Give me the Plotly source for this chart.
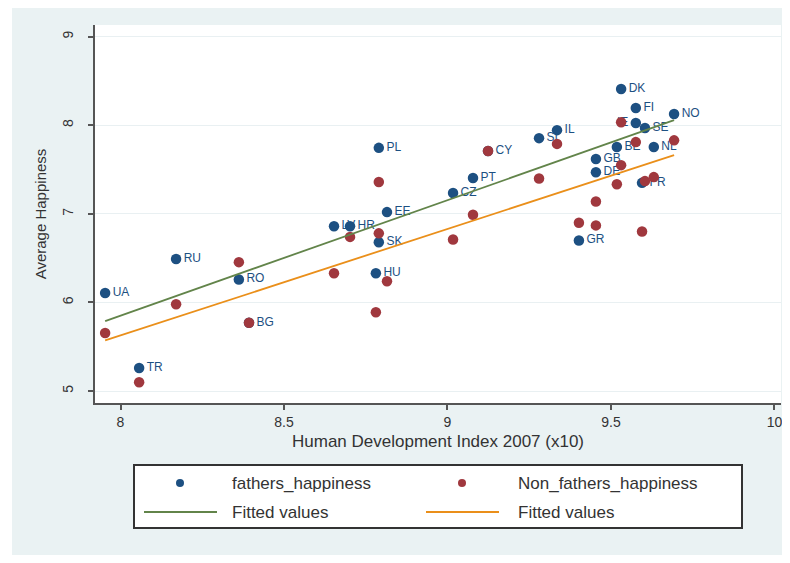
import numpy as np
import plotly.graph_objects as go

# ---- data ----
fathers_labels = ["UA", "TR", "RU", "RO", "BG", "LV", "HR", "EE", "PL", "SK", "HU",
                  "CZ", "PT", "CY", "SI", "IL", "DK", "FI", "NO", "IE", "SE", "BE",
                  "NL", "GB", "DE", "FR", "GR"]
fathers_hdi = [7.953, 8.057, 8.170, 8.362, 8.393, 8.653, 8.702, 8.815, 8.790, 8.790, 8.781,
               9.017, 9.078, 9.124, 9.280, 9.335, 9.531, 9.576, 9.693, 9.576, 9.604, 9.518,
               9.631, 9.454, 9.454, 9.595, 9.402]
fathers_happiness = [6.107, 5.26, 6.49, 6.26, 5.77, 6.86, 6.86, 7.02, 7.745, 6.68, 6.33,
                     7.235, 7.405, 7.71, 7.855, 7.945, 8.41, 8.195, 8.127, 8.025, 7.97, 7.755,
                     7.755, 7.62, 7.47, 7.35, 6.70]

non_fathers_hdi = [7.953, 8.057, 8.170, 8.362, 8.393, 8.653, 8.702, 8.790, 8.790, 8.815, 8.781,
                   9.017, 9.078, 9.124, 9.280, 9.335, 9.531, 9.576, 9.693, 9.531, 9.518,
                   9.631, 9.604, 9.454, 9.454, 9.402, 9.595]
non_fathers_happiness = [5.655, 5.10, 5.98, 6.455, 5.77, 6.33, 6.74, 7.36, 6.78, 6.24, 5.89,
                         6.71, 6.99, 7.71, 7.40, 7.79, 8.035, 7.81, 7.83, 7.55, 7.335,
                         7.415, 7.37, 7.14, 6.87, 6.90, 6.80]

x_ticks = [8, 8.5, 9, 9.5, 10]
y_ticks = [5, 6, 7, 8, 9]
legend_names = ["fathers_happiness", "Non_fathers_happiness", "Fitted values", "Fitted values"]

BLUE = "#1d5082"
RED = "#a0383e"
GREEN = "#62844a"
ORANGE = "#ea8f1a"
FONT = "Liberation Sans, Arial, sans-serif"


def fit_line(xs, ys):
    xs = np.asarray(xs)
    ys = np.asarray(ys)
    b, a = np.polyfit(xs, ys, 1)
    xx = np.array([xs.min(), xs.max()])
    return xx, a + b * xx


fx, fy = fit_line(fathers_hdi, fathers_happiness)
nx, ny = fit_line(non_fathers_hdi, non_fathers_happiness)

label_pos = ["middle left" if lbl == "IE" else "middle right" for lbl in fathers_labels]

fig = go.Figure()
fig.add_trace(go.Scatter(
    x=fathers_hdi, y=fathers_happiness, mode="markers+text", text=fathers_labels,
    textposition=label_pos, textfont=dict(color=BLUE, size=12, family=FONT),
    marker=dict(color=BLUE, size=10.5), name=legend_names[0], cliponaxis=False))
fig.add_trace(go.Scatter(
    x=non_fathers_hdi, y=non_fathers_happiness, mode="markers",
    marker=dict(color=RED, size=10.5), name=legend_names[1]))
fig.add_trace(go.Scatter(x=fx, y=fy, mode="lines", line=dict(color=GREEN, width=1.8),
                         name=legend_names[2]))
fig.add_trace(go.Scatter(x=nx, y=ny, mode="lines", line=dict(color=ORANGE, width=1.8),
                         name=legend_names[3]))

# page has an 8px body margin: figure is 782x555, positioned at (8, 8)
OFF = 8
W, H = 782, 555
L, R, T, B = 95 - OFF, W - (781 - OFF), 25 - OFF, H - (403 - OFF)
pw = W - L - R
ph = H - T - B


def px_x(p):  # page pixel -> paper x
    return (p - OFF - L) / pw


def px_y(p):  # page pixel -> paper y
    return (H - B - (p - OFF)) / ph


shapes = [
    dict(type="rect", xref="paper", yref="paper", layer="below",
         x0=px_x(12), x1=px_x(785), y0=px_y(555), y1=px_y(6),
         fillcolor="#eaf2f3", line=dict(width=0)),
    dict(type="rect", xref="paper", yref="paper", layer="below",
         x0=0, x1=1, y0=0, y1=1, fillcolor="white", line=dict(width=0)),
    # legend box
    dict(type="rect", xref="paper", yref="paper", x0=px_x(134), x1=px_x(742),
         y0=px_y(528), y1=px_y(465), fillcolor="white", line=dict(color="#333333", width=2)),
]
annotations = []

row_y = [483, 512]
col_key = [180, 462]
col_text = [230, 516]
keys = [("marker", BLUE), ("marker", RED), ("line", GREEN), ("line", ORANGE)]
for i, (name, (kind, col)) in enumerate(zip(legend_names, keys)):
    r, c = divmod(i, 2)
    cy = row_y[r]
    cx = col_key[c]
    if kind == "marker":
        shapes.append(dict(type="circle", xref="paper", yref="paper",
                           x0=px_x(cx - 4), x1=px_x(cx + 4), y0=px_y(cy + 4), y1=px_y(cy - 4),
                           fillcolor=col, line=dict(width=0)))
    else:
        shapes.append(dict(type="line", xref="paper", yref="paper",
                           x0=px_x(cx - 36), x1=px_x(cx + 37), y0=px_y(cy), y1=px_y(cy),
                           line=dict(color=col, width=2)))
    annotations.append(dict(text=name, xref="paper", yref="paper", x=px_x(col_text[c]),
                            y=px_y(cy), xanchor="left", yanchor="middle", showarrow=False,
                            font=dict(size=17, color="#333333", family=FONT)))

fig.update_layout(
    width=W, height=H, template="none",
    margin=dict(l=L, r=R, t=T, b=B, autoexpand=False),
    paper_bgcolor="white", plot_bgcolor="white",
    font=dict(family=FONT, color="#333333", size=13),
    shapes=shapes, annotations=annotations, showlegend=False,
    xaxis=dict(range=[7.922, 10.020], tickvals=x_ticks, ticktext=[str(t) for t in x_ticks],
               showgrid=False, zeroline=False, showline=True, linecolor="#555555",
               linewidth=2, ticks="outside", ticklen=5, tickwidth=2, tickcolor="#555555",
               tickfont=dict(size=14, color="#333333"),
               title=dict(text="Human Development Index 2007 (x10)",
                          font=dict(size=17, color="#333333"), standoff=6)),
    yaxis=dict(range=[4.865, 9.132], tickvals=y_ticks, ticktext=[str(t) for t in y_ticks],
               showgrid=True, gridcolor="#e9f0f2", gridwidth=1, zeroline=False,
               showline=True, linecolor="#555555", linewidth=2, ticks="outside",
               ticklen=5, tickwidth=2, tickcolor="#555555", tickangle=-90,
               ticklabelstandoff=9,
               tickfont=dict(size=14, color="#333333"),
               title=dict(text="Average Happiness", font=dict(size=15, color="#333333"),
                          standoff=10)),
)

fig.write_html("out.html")
